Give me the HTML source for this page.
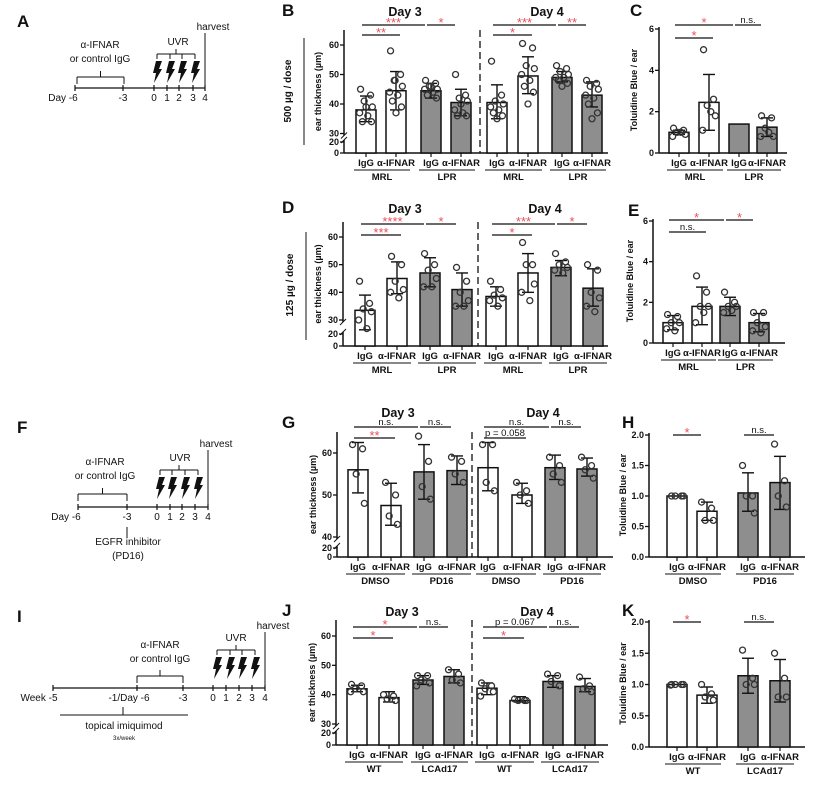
<!DOCTYPE html>
<html><head><meta charset="utf-8">
<style>
html,body{margin:0;padding:0;background:#fff;}
svg{display:block;font-family:"Liberation Sans",Arial,sans-serif;}
</style></head>
<body>
<svg id="fig" width="822" height="787" viewBox="0 0 822 787" xmlns="http://www.w3.org/2000/svg"></svg>
<script>
// ---------- DATA ----------
const barLabels = ["IgG","α-IFNAR","IgG","α-IFNAR","IgG","α-IFNAR","IgG","α-IFNAR"];
const bGroups = ["MRL","LPR","MRL","LPR"];
const bMeans = [38,44.5,44.5,40.5,40.5,49.5,49,43];
const bHi = [42.7,51,47,45,46.5,56,51,47.5];
const bLo = [34,38,42,36,35,43.5,47.5,39];
const bPts = [[45,43,41,39,37,36,34,34,39],[58,50,48,46,44,43,41,39,37,48],[48,47,46,45,45,44,43,42,46],[50,43,42,41,38,37,36,36,40],[54.5,43,41,40,39,38,37,36,35],[60.5,59,53,52,50,48,46,44,40],[53,52,51,50,49,49,48,47,46],[48,47,46,45,43,42,40,37,35]];
const bSig = [[0,2,1,"***"],[2,3,1,"*"],[0,1,2,"**"],[4,6,1,"***"],[6,7,1,"**"],[4,5,2,"*"]];

const dMeans = [33.5,45,47,41,38.5,47,49,41.5];
const dHi = [39,51,52.5,47,42,54,51.5,48.5];
const dLo = [27,39.5,42,35,35,40,46,35];
const dPts = [[44,36,34,33,30,29],[53,50,44,41,40,38],[54,50,48,45,42,42],[49,44,40,37,35,35],[44,41,39,38,37,35],[58,50,50,43,40,37],[54,51,50,49,48,47],[50,48,40,38,35,33]];
const dSig = [[0,2,1,"****"],[2,3,1,"*"],[0,1,2,"***"],[4,6,1,"***"],[6,7,1,"*"],[4,5,2,"*"]];

const cGroups = ["MRL","LPR"];
const cMeans = [1.0,2.45,1.4,1.25];
const cHi = [1.1,3.8,null,1.7];
const cLo = [0.9,1.1,null,0.8];
const cPts = [[1.2,1.1,1.0,0.9,0.8,1.0],[5.0,2.6,2.3,1.8,1.1,2.0],[],[1.8,1.7,1.2,0.8,0.8,1.0]];
const cSig = [[0,2,1,"*"],[2,3,1,"n.s."],[0,1,2,"*"]];

const eMeans = [1.0,1.8,1.8,1.0];
const eHi = [1.35,2.75,2.25,1.45];
const eLo = [0.65,0.9,1.35,0.55];
const ePts = [[1.4,1.3,1.0,1.0,0.7,0.6],[3.3,2.5,1.8,1.8,1.0,1.5],[2.5,2.0,1.8,1.8,1.5,1.6],[1.5,1.5,1.0,0.8,0.6,0.5]];
const eSig = [[0,2,1,"*"],[2,3,1,"*"],[0,1,2,"n.s."]];

const gGroups = ["DMSO","PD16","DMSO","PD16"];
const gMeans = [56,47.5,55.5,55.8,56.5,50,56.5,56.2];
const gHi = [62.5,52.8,62,59.3,62.5,52.8,59.5,58.8];
const gLo = [50.5,42.8,49,52.5,51,48,53.7,54.5];
const gPts = [[62,61,55,48],[53,50,45,43],[64,58,52,49],[59,58,55,53],[62,62,53,51],[53,51,50,48],[59,57,55,53],[59,57,56,54]];
const gSig = [[0,2,1,"n.s."],[2,3,1,"n.s."],[0,1,2,"**"],[4,6,1,"n.s."],[6,7,1,"n.s."],[4,5,2,"p = 0.058"]];

const hGroups = ["DMSO","PD16"];
const hMeans = [1.0,0.75,1.05,1.22];
const hHi = [null,0.9,1.38,1.65];
const hLo = [null,0.6,0.75,0.78];
const hPts = [[1,1,1,1],[0.9,0.8,0.6,0.6],[1.5,1.0,1.0,0.72],[1.85,1.25,1.0,0.82]];
const hSig = [[0,1,1,"*"],[2,3,1,"n.s."]];

const jGroups = ["WT","LCAd17","WT","LCAd17"];
const jMeans = [42,39,45,46.2,42.2,38,44.5,42.8];
const jHi = [43.2,41,46.5,48.5,44,39.3,46.5,45.5];
const jLo = [41,37.5,43.5,44,40,37.5,42.5,41];
const jPts = [[43.5,43,42,41,41],[40,39.5,38.5,38],[46.5,46.5,45,44,43],[48.5,47,45,44],[44,43,42,41,39.5],[38.5,38,38,38],[47,46.5,44.5,43],[46,43,42,41]];
const jSig = [[0,2,1,"*"],[2,3,1,"n.s."],[0,1,2,"*"],[4,6,1,"p = 0.067"],[6,7,1,"n.s."],[4,5,2,"*"]];

const kGroups = ["WT","LCAd17"];
const kMeans = [1.0,0.83,1.14,1.06];
const kHi = [null,0.96,1.42,1.4];
const kLo = [null,0.7,0.86,0.72];
const kPts = [[1,1,1,1,0.99],[1.0,0.85,0.8,0.75],[1.55,1.1,1.0,1.0],[1.5,1.1,0.8,0.8]];
const kSig = [[0,1,1,"*"],[2,3,1,"n.s."]];

// ---------- DRAWING ----------
const NS="http://www.w3.org/2000/svg";
const svg=document.getElementById('fig');
function el(tag,attrs,parent,txt){const e=document.createElementNS(NS,tag);for(const k in attrs)e.setAttribute(k,attrs[k]);if(txt!==undefined)e.textContent=txt;(parent||svg).appendChild(e);return e;}
function line(x1,y1,x2,y2,p,w,dash){const l=el('line',{x1,y1,x2,y2,stroke:'#111','stroke-width':w||1.2},p);if(dash)l.setAttribute('stroke-dasharray',dash);return l;}
function text(x,y,s,p,size,opts){opts=opts||{};const t=el('text',{x,y,'font-size':size||9,'text-anchor':opts.anchor||'middle',fill:opts.fill||'#111','font-weight':opts.bold===false?'normal':'bold'},p,s);if(opts.rot)t.setAttribute('transform','rotate(-90 '+x+' '+y+')');return t;}

function makeScale(c){
  if(c.brk!==undefined){
    const k=(c.brkY-c.topTickY)/(c.topTick-c.brk);
    return v=> v>=c.brk ? c.brkY-(v-c.brk)*k : c.y0-v*(c.y0-c.lowY)/c.low;
  }
  const k=(c.y0-c.topTickY)/c.topTick;
  return v=>c.y0-v*k;
}
const jit=[-6,5,-2,7,-7,2,-4,6,0,-1];

function panel(c){
  const g=el('g',{});
  
  
  const y=makeScale(c);
  const ax=el('g',{},g);
  
  
  if(c.brk!==undefined){
    line(c.ax,c.axTop,c.ax,y(c.brk)+2,ax,1.5);
    line(c.ax,y(c.low)-2,c.ax,c.y0,ax,1.5);
    line(c.ax-3,y(c.brk)+5,c.ax+3,y(c.brk)-1,ax,1);
    line(c.ax-3,y(c.low)+1,c.ax+3,y(c.low)-5,ax,1);
  } else line(c.ax,c.axTop,c.ax,c.y0,ax,1.5);
  c.ticks.forEach(t=>{const yy=y(t);line(c.ax-4,yy,c.ax,yy,ax,1.3);text(c.ax-5,yy+3,c.tickFmt?t.toFixed(1):String(t),ax,9,{anchor:'end'});});
  line(c.ax,c.y0,c.axEnd,c.y0,ax,1.5);
  text(c.ylabX,(c.axTop+c.y0)/2,c.ylab,ax,9,{rot:true});
  if(c.dash!==undefined){const d=line(c.dash,c.axTop,c.dash,c.y0,g,1.3,'7,4');}
  c.means.forEach((m,i)=>{
    const x=c.xs[i];
    const bg=el('g',{},g);
    
    
    el('rect',{x:x-c.bw/2,y:y(m),width:c.bw,height:c.y0-y(m),fill:c.gray[i]?'#8e8e8e':'#fff',stroke:'#111','stroke-width':1.5},bg);
    if(c.hi[i]!=null){line(x,y(c.hi[i]),x,y(c.lo[i]),bg,1.4);line(x-6,y(c.hi[i]),x+6,y(c.hi[i]),bg,1.4);line(x-6,y(c.lo[i]),x+6,y(c.lo[i]),bg,1.4);}
    c.pts[i].forEach((p,k)=>{el('circle',{cx:x+jit[k%jit.length]*c.bw/22,cy:y(p),r:3,fill:'none',stroke:'#333','stroke-width':1.3},bg);});
    line(x,c.y0,x,c.y0+4,bg,1.2);
    text(x,c.y0+13,barLabels[i],bg,9.5);
  });
  c.groups.forEach((gn,j)=>{
    const x1=c.xs[2*j]-12,x2=c.xs[2*j+1]+14;
    line(x1,c.y0+17,x2,c.y0+17,g,1);
    text((x1+x2)/2,c.y0+27,gn,g,9.5);
  });
  c.sig.forEach(s=>{
    const x1=c.xs[s[0]]-4,x2=c.xs[s[1]]+(s[2]===1?-6:4);
    const yy=c.sigY[s[2]-1];
    const sg=el('g',{},g);
    
    
    line(x1,yy,x2,yy,sg,1.2);
    const red=s[3].indexOf('*')>=0;
    text((x1+x2)/2,yy-(red?-2:2),s[3],sg,red?13:9.5,{fill:red?'#e8505b':'#111',bold:false});
  });
}
const G=[false,false,true,true,false,false,true,true];
const G4=[false,false,true,true];

panel({name:'panel-b',ax:344,axTop:30,axEnd:608,y0:153,brk:30,brkY:133.5,topTick:60,topTickY:45,low:20,lowY:142,ticks:[0,20,30,40,50,60],ylab:'ear thickness (µm)',ylabX:321,xs:[366,396,431,461,497,528,562,592],bw:20,means:bMeans,hi:bHi,lo:bLo,pts:bPts,gray:G,groups:bGroups,sig:bSig,sigY:[25,35],dash:480});
panel({name:'panel-d',ax:343,axTop:222,axEnd:608,y0:346,brk:30,brkY:320,topTick:60,topTickY:237,low:20,lowY:334,ticks:[0,20,30,40,50,60],ylab:'ear thickness (µm)',ylabX:321,xs:[365,397,430,462,496,528,561,593],bw:20,means:dMeans,hi:dHi,lo:dLo,pts:dPts,gray:G,groups:bGroups,sig:dSig,sigY:[224,235],dash:478});
panel({name:'panel-c',ax:659,axTop:27,axEnd:787,y0:153,topTick:6,topTickY:29,ticks:[0,2,4,6],ylab:'Toluidine Blue / ear',ylabX:637,xs:[679,709,739,767],bw:20,means:cMeans,hi:cHi,lo:cLo,pts:cPts,gray:G4,groups:cGroups,sig:cSig,sigY:[25,38]});
panel({name:'panel-e',ax:653,axTop:219,axEnd:785,y0:343,topTick:6,topTickY:221,ticks:[0,2,4,6],ylab:'Toluidine Blue / ear',ylabX:633,xs:[673,702,730,759],bw:20,means:eMeans,hi:eHi,lo:eLo,pts:ePts,gray:G4,groups:cGroups,sig:eSig,sigY:[220,232]});
panel({name:'panel-g',ax:337,axTop:432,axEnd:613,y0:557,brk:40,brkY:537,topTick:60,topTickY:453,low:20,lowY:548,ticks:[0,20,40,50,60],ylab:'ear thickness (µm)',ylabX:316,xs:[358,391,424,457,488,522,555,587],bw:20,means:gMeans,hi:gHi,lo:gLo,pts:gPts,gray:G,groups:gGroups,sig:gSig,sigY:[427,438],dash:472});
panel({name:'panel-h',ax:649,axTop:433,axEnd:805,y0:557,topTick:2,topTickY:435,tickFmt:true,ticks:[0,0.5,1,1.5,2],ylab:'Toluidine Blue / ear',ylabX:626,xs:[677,707,748,780],bw:20,means:hMeans,hi:hHi,lo:hLo,pts:hPts,gray:G4,groups:hGroups,sig:hSig,sigY:[435]});
panel({name:'panel-j',ax:336,axTop:620,axEnd:608,y0:745,brk:30,brkY:724,topTick:60,topTickY:636,low:20,lowY:733,ticks:[0,20,30,40,50,60],ylab:'ear thickness (µm)',ylabX:315,xs:[357,389,423,454,487,520,553,585],bw:20,means:jMeans,hi:jHi,lo:jLo,pts:jPts,gray:G,groups:jGroups,sig:jSig,sigY:[627,638],dash:472});
panel({name:'panel-k',ax:649,axTop:620,axEnd:805,y0:747,topTick:2,topTickY:622,tickFmt:true,ticks:[0,0.5,1,1.5,2],ylab:'Toluidine Blue / ear',ylabX:626,xs:[677,707,748,780],bw:20,means:kMeans,hi:kHi,lo:kLo,pts:kPts,gray:G4,groups:kGroups,sig:kSig,sigY:[622]});

[[291,91,'500 µg / dose',304,38,145],[293,285,'125 µg / dose',306,232,340]].forEach(d=>{
  const t=text(d[0],d[1],d[2],svg,10,{rot:true});
  line(d[3],d[4],d[3],d[5],svg,1);
});
[[405,16,'Day 3'],[547,16,'Day 4'],[405,213,'Day 3'],[545,213,'Day 4'],[398,417,'Day 3'],[543,417,'Day 4'],[402,616,'Day 3'],[537,616,'Day 4']].forEach(d=>{
  const t=text(d[0],d[1],d[2],svg,12.5);
});
[['A',17,27],['B',282,16],['C',630,16],['D',282,213],['E',628,216],['F',17,433],['G',282,428],['H',622,428],['I',17,622],['J',282,616],['K',622,616]].forEach(p=>{
  const t=text(p[1],p[2],p[0],svg,17,{anchor:'start'});
});

// ---------- TIMELINES ----------
function bolt(x,yTop,p){el('polygon',{points:`${x+2},${yTop} ${x+8},${yTop} ${x+5},${yTop+8} ${x+8},${yTop+8} ${x},${yTop+22} ${x+2},${yTop+12} ${x-1},${yTop+12}`,fill:'#111'},p);}
function timeline(c){
  const g=el('g',{});
  
  
  line(c.x0,c.ly,c.x1,c.ly,g,1.2);
  c.ticks.forEach(t=>{line(t[0],c.ly-3,t[0],c.ly+3,g,1.2);text(t[0]+(t[2]||0),c.ly+13,t[1],g,10,{bold:false});});
  text(c.hx+8,c.hy,'harvest',g,10,{bold:false});
  line(c.hx,c.hy+3,c.hx,c.ly-2,g,1);
  text(c.uvx,c.uvy,'UVR',g,10,{bold:false});
  line(c.ub[0],c.uvy+9,c.ub[1],c.uvy+9,g,1);line((c.ub[0]+c.ub[1])/2,c.uvy+4,(c.ub[0]+c.ub[1])/2,c.uvy+9,g,1);
  c.bolts.forEach(bx=>{line(bx,c.uvy+9,bx,c.uvy+14,g,1);bolt(bx-3,c.uvy+16,g);});
  text(c.ax,c.ay,'α-IFNAR',g,10,{bold:false});text(c.ax,c.ay+14,'or control IgG',g,10,{bold:false});
  line(c.ab[0],c.aby,c.ab[1],c.aby,g,1);line(c.ab[0],c.aby,c.ab[0],c.aby+7,g,1);line(c.ab[1],c.aby,c.ab[1],c.aby+7,g,1);
  line((c.ab[0]+c.ab[1])/2,c.aby-6,(c.ab[0]+c.ab[1])/2,c.aby,g,1);
  return g;
}
timeline({name:'timeline-a',x0:75,x1:205,ly:88,ticks:[[75,'Day -6',-12],[123,'-3'],[154,'0'],[167,'1'],[179,'2'],[193,'3'],[205,'4']],hx:205,hy:30,uvx:178,uvy:45,ub:[157,195],bolts:[157,170,182,195],ax:100,ay:48,ab:[77,124],aby:77});
const gf=timeline({name:'timeline-f',x0:78,x1:208,ly:507,ticks:[[78,'Day -6',-12],[127,'-3'],[157,'0'],[170,'1'],[182,'2'],[195,'3'],[208,'4']],hx:208,hy:447,uvx:180,uvy:461,ub:[160,198],bolts:[160,172,185,198],ax:105,ay:465,ab:[78,127],aby:494});
line(127,538,127,527,gf,1);
text(128,545,'EGFR inhibitor',gf,10,{bold:false});text(128,559,'(PD16)',gf,10,{bold:false});
const gi=timeline({name:'timeline-i',x0:53,x1:265,ly:688,ticks:[[53,'Week -5',-14],[137,'-1/Day -6',-8],[183,'-3'],[213,'0'],[226,'1'],[239,'2'],[252,'3'],[265,'4']],hx:265,hy:629,uvx:236,uvy:641,ub:[217,255],bolts:[217,230,242,255],ax:160,ay:648,ab:[137,183],aby:676});
line(60,715,188,715,gi,1);line(123,707,123,715,gi,1);
text(124,729,'topical imiquimod',gi,10,{bold:false});text(124,740,'3x/week',gi,6,{bold:false});
</script>
</body></html>
